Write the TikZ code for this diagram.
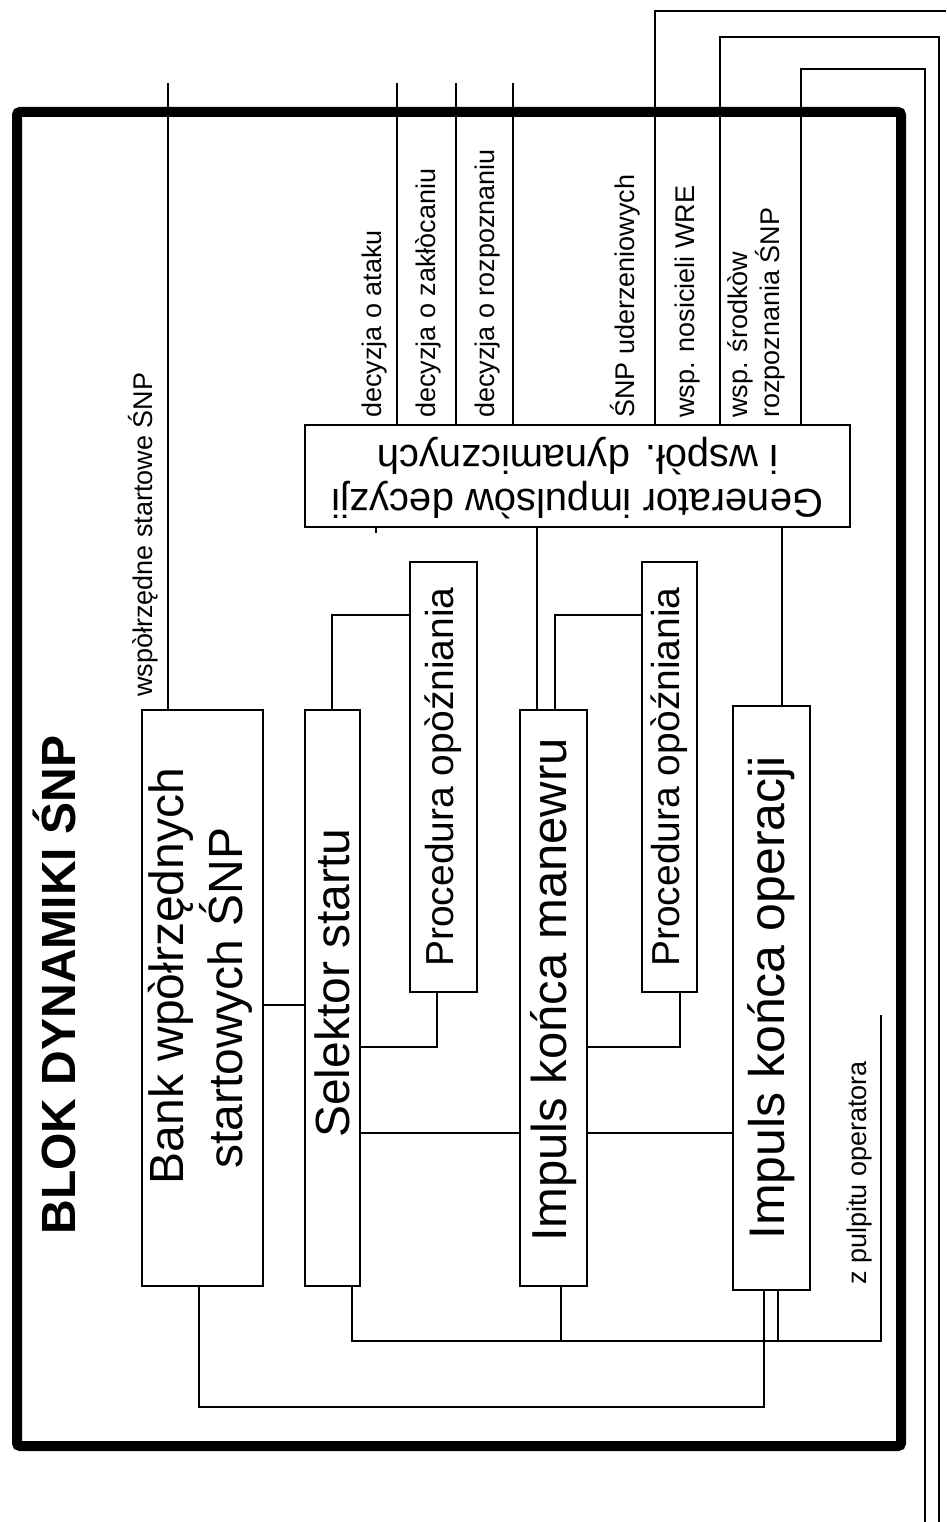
\documentclass[tikz,border=0pt]{standalone}
\usepackage{fontspec}
\setmainfont{Liberation Sans}
\usepackage{graphicx}
\begin{document}
\begin{tikzpicture}[x=1pt,y=-1pt,
  box/.style={draw, line width=1.5pt, inner sep=0pt, outer sep=0pt, align=center},
  wire/.style={line width=1.3pt},
  lbl/.style={rotate=90, anchor=base west, inner sep=0pt, font=\fontsize{27}{32}\selectfont}]
\useasboundingbox[fill=white] (0,0) rectangle (946,1522);
% frame
\node[draw, line width=10pt, rounded corners=3pt, minimum width=884pt, minimum height=1334pt, inner sep=0pt, outer sep=0pt] (frame) at (459,779) {};
\node[rotate=90, anchor=base, inner sep=0pt, font=\bfseries\fontsize{48}{52}\selectfont] (title) at (75,985) {BLOK DYNAMIKI ŚNP};
% boxes
\node[box, minimum width=121pt, minimum height=576pt] (bank) at (202.5,998)
  {\rotatebox{90}{\fontsize{48}{52}\selectfont\begin{tabular}{@{}c@{}}\hspace*{44pt}Bank wpòłrzędnych\\startowych ŚNP\end{tabular}}};
\node[box, minimum width=55pt, minimum height=576pt] (sel) at (332.5,998)
  {\rotatebox{90}{\fontsize{48}{52}\selectfont\hspace*{30pt}Selektor startu}};
\node[box, minimum width=67pt, minimum height=430pt] (proc1) at (443.5,777)
  {\rotatebox{90}{\fontsize{39}{44}\selectfont Procedura opòźniania}};
\node[box, minimum width=67pt, minimum height=576pt] (imm) at (553.5,998)
  {\rotatebox{90}{\fontsize{49}{52}\selectfont\hspace*{16pt}Impuls końca manewru}};
\node[box, minimum width=55pt, minimum height=430pt] (proc2) at (669.5,777)
  {\rotatebox{90}{\fontsize{39}{44}\selectfont Procedura opòźniania}};
\node[box, minimum width=77pt, minimum height=584pt] (imo) at (771.5,998)
  {\rotatebox{90}{\fontsize{50}{52}\selectfont Impuls końca operacji}};
\node[box, minimum width=545pt, minimum height=102pt] (gen) at (577.5,476)
  {\rotatebox{180}{\fontsize{40}{44}\selectfont\begin{tabular}{@{}c@{}}Generator impulsòw decyzji\\i wspòł. dynamicznych\end{tabular}}};
% labels
\node[lbl] (lws) at (152,697) {wspòłrzędne startowe ŚNP};
\node[lbl] (l1) at (381,418) {decyzja o ataku};
\node[lbl] (l2) at (435,418) {decyzja o zakłòcaniu};
\node[lbl] (l3) at (494,418) {decyzja o rozpoznaniu};
\node[lbl] (l4) at (634,418) {ŚNP uderzeniowych};
\node[lbl] (l5) at (694,418) {wsp. nosicieli WRE};
\node[lbl, align=left, anchor=south west] (l6) at (785,418) {wsp. środkòw\\rozpoznania ŚNP};
\node[lbl] (lpul) at (866,1285) {z pulpitu operatora};
% outputs upward
\coordinate (wsT) at (168,83);
\draw[wire] (bank.north -| wsT) -- (wsT);
\coordinate (d1) at (397,83);
\coordinate (d2) at (456,83);
\coordinate (d3) at (513,83);
\draw[wire] (gen.north -| d1) -- (d1);
\draw[wire] (gen.north -| d2) -- (d2);
\draw[wire] (gen.north -| d3) -- (d3);
\coordinate (oA) at (655,11);
\coordinate (oAe) at (946,11);
\draw[wire] (gen.north -| oA) -- (oA) -- (oAe);
\coordinate (oB) at (720,37);
\coordinate (oBc) at (939,37);
\coordinate (oBe) at (939,1522);
\draw[wire] (gen.north -| oB) -- (oB) -- (oBc) -- (oBe);
\coordinate (oC) at (801,69);
\coordinate (oCc) at (925,69);
\coordinate (oCe) at (925,1522);
\draw[wire] (gen.north -| oC) -- (oC) -- (oCc) -- (oCe);
% internal connections
\coordinate (bs) at (0,1005);
\draw[wire] (bank.east |- bs) -- (sel.west |- bs);
\coordinate (sp) at (332,615);
\draw[wire] (sel.north -| sp) -- (sp) -- (proc1.west |- sp);
\coordinate (ps) at (437,1047);
\draw[wire] (proc1.south -| ps) -- (ps) -- (sel.east |- ps);
\coordinate (si) at (0,1133);
\draw[wire] (sel.east |- si) -- (imm.west |- si);
\draw[wire] (imm.east |- si) -- (imo.west |- si);
\coordinate (ig) at (537,0);
\draw[wire] (imm.north -| ig) -- (gen.south -| ig);
\coordinate (ip) at (555,615);
\draw[wire] (imm.north -| ip) -- (ip) -- (proc2.west |- ip);
\coordinate (pi) at (680,1047);
\draw[wire] (proc2.south -| pi) -- (pi) -- (imm.east |- pi);
\coordinate (og) at (782,0);
\draw[wire] (imo.north -| og) -- (gen.south -| og);
\coordinate (gt) at (376,533);
\draw[wire] (gen.south -| gt) -- (gt);
% bottom connections
\coordinate (b1) at (199,1407);
\coordinate (b2) at (764,1407);
\draw[wire] (bank.south -| b1) -- (b1) -- (b2) -- (imo.south -| b2);
\coordinate (s1) at (352,1341);
\coordinate (pul) at (881,1015);
\draw[wire] (sel.south -| s1) -- (s1) -- (pul |- s1) -- (pul);
\coordinate (m1) at (561,1341);
\draw[wire] (imm.south -| m1) -- (m1);
\coordinate (o1) at (778,1341);
\draw[wire] (imo.south -| o1) -- (o1);
\end{tikzpicture}
\end{document}
